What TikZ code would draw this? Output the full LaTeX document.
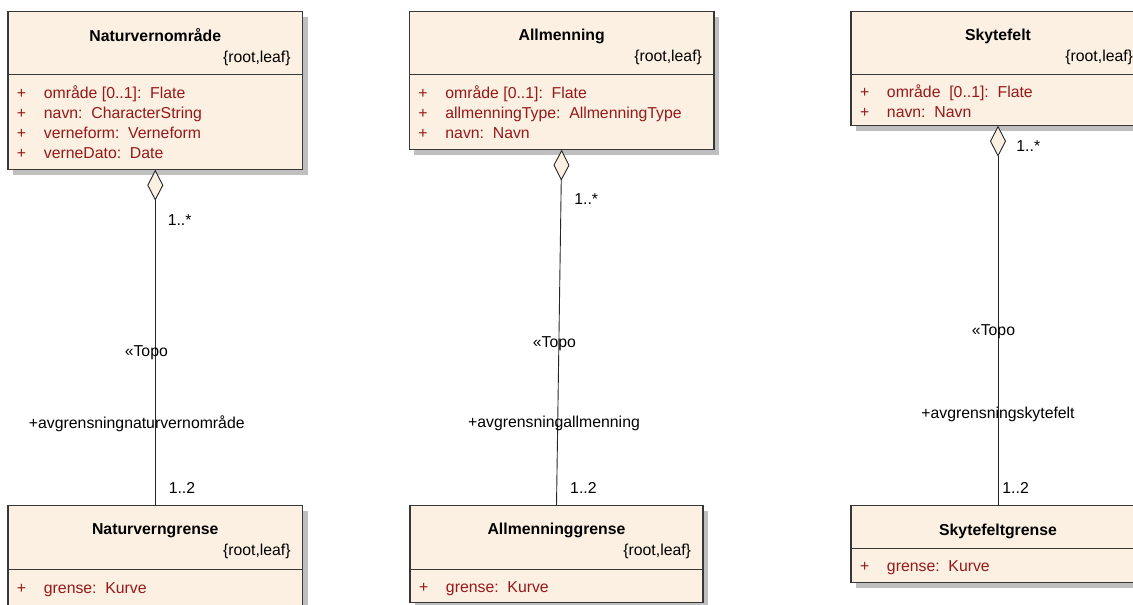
\documentclass[tikz,border=0pt]{standalone}
\usepackage{fontspec}
\setmainfont{Liberation Sans}
\usetikzlibrary{positioning, arrows.meta, shadows}
\definecolor{classfill}{RGB}{251,240,226}
\definecolor{attrred}{RGB}{150,25,25}
\definecolor{borderclr}{RGB}{55,55,55}
\tikzset{
    classbox/.style={rectangle, draw=borderclr, line width=1.1pt, fill=classfill,
        outer sep=0pt, inner ysep=0pt,
        drop shadow={shadow xshift=5pt, shadow yshift=-5pt, fill=black!25, opacity=1}}, % boxes of the classes
    classhead/.style={classbox, inner xsep=12pt, anchor=north, font=\fontsize{15.8}{21}\selectfont},
    classattr/.style={classbox, inner xsep=9pt, text=attrred, font=\fontsize{15.8}{20}\selectfont},
    aggr/.style={draw=black!85, line width=0.9pt,
        {Diamond[length=31pt, width=16pt, fill=classfill, line width=0.9pt]}-}, % aggregation
    lbl/.style={inner sep=0pt, text=black, font=\fontsize{15.8}{19}\selectfont},
}
% class header: width of text, name (and the tag line)
\newcommand{\classhd}[2]{\parbox{#1}{\vspace*{7pt}\centering\textbf{#2}\\\makebox[#1][r]{\{root,leaf\}}}}
\newcommand{\attr}[1]{\makebox[27pt][l]{+}#1}

\begin{document}
\begin{tikzpicture}[x=1pt, y=-1pt]
    \useasboundingbox (0,0) rectangle (1133,605);
    \clip (0,0) rectangle (1133,605);

    % --- Nodes (classes) ---
    % Row 1
    \node[classhead, minimum width=294.7pt, minimum height=63pt] (natur) at (155.3,11.7)
        {\classhd{270.7pt}{Naturvernområde}};
    \node[classattr, minimum width=294.7pt, minimum height=95pt, below=0pt of natur] (naturattr)
        {\parbox{276.7pt}{\attr{område [0..1]:~~Flate}\\\attr{navn:~~CharacterString}\\
         \attr{verneform:~~Verneform}\\\attr{verneDato:~~Date}}};

    \node[classhead, minimum width=304.5pt, minimum height=63pt] (allm) at (561.7,11.7)
        {\classhd{280.5pt}{Allmenning}};
    \node[classattr, minimum width=304.5pt, minimum height=75pt, below=0pt of allm] (allmattr)
        {\parbox{286.5pt}{\attr{område [0..1]:~~Flate}\\\attr{allmenningType:~~AllmenningType}\\
         \attr{navn:~~Navn}}};

    \node[classhead, minimum width=294pt, minimum height=63pt] (skyte) at (998,11.7)
        {\classhd{270pt}{Skytefelt}};
    \node[classattr, minimum width=294pt, minimum height=51pt, below=0pt of skyte] (skyteattr)
        {\parbox{276pt}{\vspace*{2pt}\attr{område~~[0..1]:~~Flate}\\\attr{navn:~~Navn}}};

    % Row 2
    \node[classhead, minimum width=294.7pt, minimum height=63.6pt] (naturgr) at (155.3,505.7)
        {\classhd{270.7pt}{Naturverngrense}};
    \node[classattr, minimum width=294.7pt, minimum height=40pt, below=0pt of naturgr] (naturgrattr)
        {\parbox{276.7pt}{\attr{grense:~~Kurve}}};

    \node[classhead, minimum width=293pt, minimum height=63.6pt] (allmgr) at (556.5,505.7)
        {\classhd{269pt}{Allmenninggrense}};
    \node[classattr, minimum width=293pt, minimum height=33pt, below=0pt of allmgr] (allmgrattr)
        {\parbox{275pt}{\vspace*{6pt}\attr{grense:~~Kurve}}};

    \node[classhead, minimum width=294pt, minimum height=43pt] (skytegr) at (998,505.7)
        {\parbox{270pt}{\vspace*{8pt}\centering\textbf{Skytefeltgrense}}};
    \node[classattr, minimum width=294pt, minimum height=34pt, below=0pt of skytegr] (skytegrattr)
        {\parbox{276pt}{\vspace*{4pt}\attr{grense:~~Kurve}}};

    % --- Associations ---
    \draw[aggr] (naturattr.south) -- (naturgr.north)
        node[lbl, pos=0.151, anchor=west, xshift=12pt] (naturm1) {1..*}
        node[lbl, pos=0.546, xshift=-9pt] (naturst) {«Topo}
        node[lbl, pos=0.757, xshift=-18.5pt] (naturrole) {+avgrensningnaturvernområde}
        node[lbl, pos=0.947, anchor=west, xshift=13pt] (naturm2) {1..2};

    \draw[aggr] (allmattr.south) -- (allmgr.north)
        node[lbl, pos=0.14, anchor=west, xshift=13pt] (allmm1) {1..*}
        node[lbl, pos=0.546, xshift=-4.4pt] (allmst) {«Topo}
        node[lbl, pos=0.77, xshift=-3.7pt] (allmrole) {+avgrensningallmenning}
        node[lbl, pos=0.95, anchor=west, xshift=13pt] (allmm2) {1..2};

    \draw[aggr] (skyteattr.south) -- (skytegr.north)
        node[lbl, pos=0.0525, anchor=west, xshift=18pt] (skytem1) {1..*}
        node[lbl, pos=0.541, xshift=-4.5pt] (skytest) {«Topo}
        node[lbl, pos=0.759] (skyterole) {+avgrensningskytefelt}
        node[lbl, pos=0.953, anchor=west, xshift=4pt] (skytem2) {1..2};

\end{tikzpicture}
\end{document}
